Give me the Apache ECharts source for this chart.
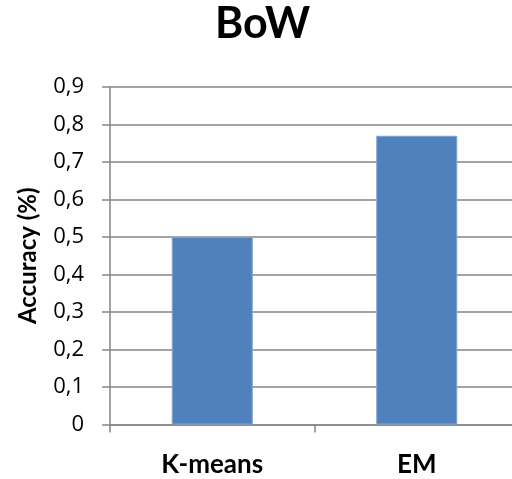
<!DOCTYPE html>
<html><head><meta charset="utf-8">
<script src="https://cdn.jsdelivr.net/npm/echarts@6/dist/echarts.min.js"></script>
<style>html,body{margin:0;padding:0;background:#fff}#c{width:512px;height:479px}</style>
</head><body><div id="c"></div>
<script>
const categories = ["K-means", "EM"];
const accuracy = [0.5, 0.77];
const yTicks = ["0", "0,1", "0,2", "0,3", "0,4", "0,5", "0,6", "0,7", "0,8", "0,9"];

const chart = echarts.init(document.getElementById('c'));
const font = 'Lato';
chart.setOption({
  animation: false,
  title: {text: 'BoW', left: 210, top: -2,
    textStyle: {fontFamily: font, fontWeight: 'bold', fontSize: 43, color: '#000'}},
  grid: {left: 110, width: 409, top: 87, height: 337.5, containLabel: false, outerBoundsMode: 'none'},
  xAxis: {type: 'category', data: categories,
    axisLine: {lineStyle: {color: '#868686', width: 1.5}},
    axisTick: {show: true, length: 8, lineStyle: {color: '#868686', width: 1.5}},
    axisLabel: {margin: 27, fontFamily: font, fontWeight: 'bold', fontSize: 26, color: '#000'}},
  yAxis: {type: 'value', min: 0, max: 0.9, interval: 0.1,
    name: 'Accuracy (%)', nameLocation: 'middle', nameGap: 70, nameRotate: 90,
    nameTextStyle: {fontFamily: font, fontWeight: 'bold', fontSize: 24, color: '#000'},
    axisLine: {show: true, lineStyle: {color: '#868686', width: 1.5}},
    axisTick: {show: true, length: 8, lineStyle: {color: '#868686', width: 1.5}},
    splitLine: {lineStyle: {color: '#868686', width: 1.5}},
    axisLabel: {margin: 26, fontFamily: 'Open Sans', fontSize: 22, color: '#000',
      formatter: (v) => yTicks[Math.round(v * 10)]}},
  series: [{type: 'bar', data: accuracy, barWidth: 81,
    itemStyle: {color: '#4F81BD', borderColor: '#7FA3D3', borderWidth: 1}}]
});
</script></body></html>
